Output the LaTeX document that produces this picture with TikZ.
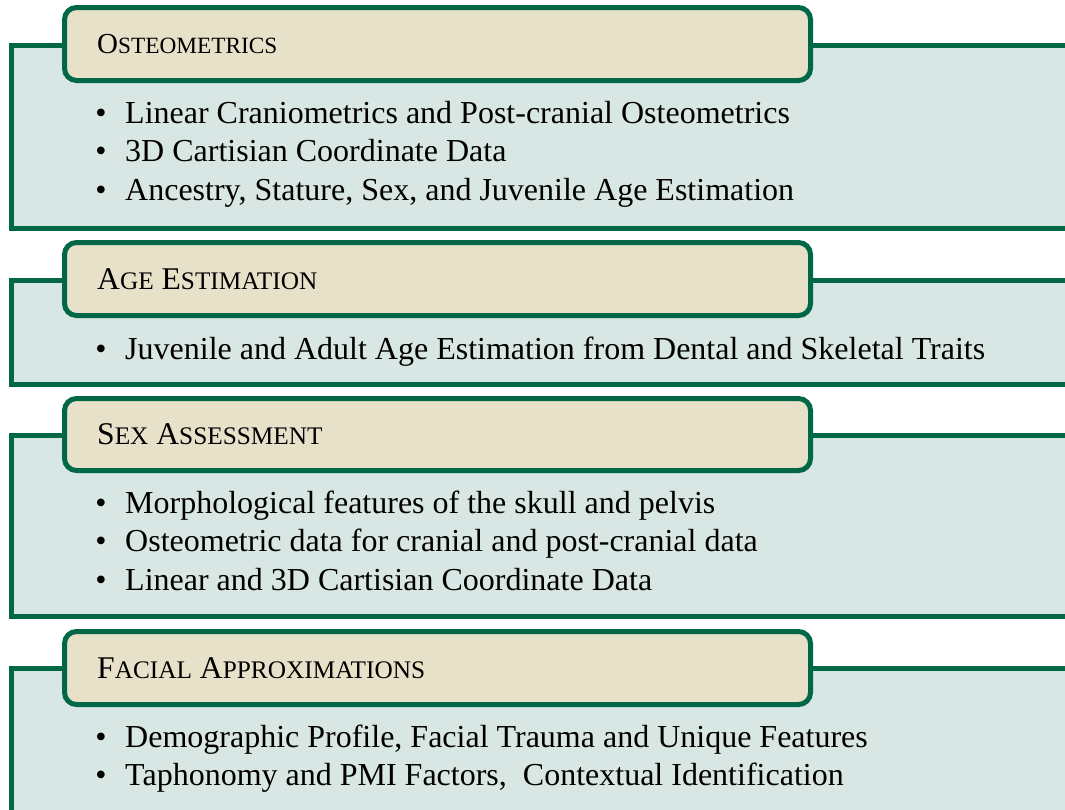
\documentclass[tikz,border=0pt]{standalone}
\usepackage{fontspec}
\setmainfont{Liberation Serif}
\definecolor{bordergreen}{RGB}{0,104,71}
\definecolor{panelfill}{RGB}{217,231,228}
\definecolor{labelfill}{RGB}{231,225,201}
\newcommand\lbBig[1]{{\fontsize{31.6}{33}\selectfont #1}}
\newcommand\lbSmall[1]{{\fontsize{25.3}{27}\selectfont #1}}
\newcommand\lbBigO[1]{{\fontsize{29}{31}\selectfont #1}}
\newcommand\lbSmallO[1]{{\fontsize{23.3}{25}\selectfont #1}}
\tikzset{
  panel/.style={draw=bordergreen, line width=5pt, fill=panelfill},
  labelbox/.style={draw=bordergreen, line width=5pt, fill=labelfill, rounded corners=12pt},
  lbl/.style={anchor=base west, inner sep=0pt, font=\fontsize{31.6}{33}\selectfont},
  item/.style={anchor=base west, inner sep=0pt, font=\fontsize{32}{34}\selectfont},
  bul/.style={anchor=base, inner sep=0pt, font=\fontsize{32}{34}\selectfont}
}
\begin{document}
\begin{tikzpicture}[x=1pt,y=-1pt]
\useasboundingbox (0,0) rectangle (1065,809);
\clip (0,0) rectangle (1065,809);
\fill[white] (0,0) rectangle (1065,809);
% Section 1
\draw[panel] (11.5,45.5) rectangle (1085,228);
\draw[labelbox] (64.5,7.5) rectangle (810.5,80.5);
\node[lbl] (t1) at (97,53.5) {\lbBigO{O}\lbSmallO{STEOMETRICS}};
\node[bul] (b11) at (101,123) {•};
\node[item] (i11) at (125,123) {Linear Craniometrics and Post-cranial Osteometrics};
\node[bul] (b12) at (101,161.5) {•};
\node[item] (i12) at (125,161.5) {3D Cartisian Coordinate Data};
\node[bul] (b13) at (101,200) {•};
\node[item] (i13) at (125,200) {Ancestry, Stature, Sex, and Juvenile Age Estimation};
% Section 2
\draw[panel] (11.5,280) rectangle (1085,384);
\draw[labelbox] (64.5,242.5) rectangle (810.5,315.5);
\node[lbl] (t2) at (97,289) {\lbBig{A}\lbSmall{GE} \lbBig{E}\lbSmall{STIMATION}};
\node[bul] (b21) at (101,359) {•};
\node[item] (i21) at (125,359) {Juvenile and Adult Age Estimation from Dental and Skeletal Traits};
% Section 3
\draw[panel] (11.5,435.5) rectangle (1085,616.5);
\draw[labelbox] (64.5,398.5) rectangle (810.5,470.5);
\node[lbl] (t3) at (97,444.5) {\lbBig{S}\lbSmall{EX} \lbBig{A}\lbSmall{SSESSMENT}};
\node[bul] (b31) at (101,513) {•};
\node[item] (i31) at (125,513) {Morphological features of the skull and pelvis};
\node[bul] (b32) at (101,551.5) {•};
\node[item] (i32) at (125,551.5) {Osteometric data for cranial and post-cranial data};
\node[bul] (b33) at (101,590) {•};
\node[item] (i33) at (125,590) {Linear and 3D Cartisian Coordinate Data};
% Section 4
\draw[panel] (11.5,668.5) rectangle (1085,840);
\draw[labelbox] (64.5,631.5) rectangle (810.5,704.5);
\node[lbl] (t4) at (97,678) {\lbBig{F}\lbSmall{ACIAL} \lbBig{A}\lbSmall{PPROXIMATIONS}};
\node[bul] (b41) at (101,747) {•};
\node[item] (i41) at (125,747) {Demographic Profile, Facial Trauma and Unique Features};
\node[bul] (b42) at (101,785.5) {•};
\node[item] (i42) at (125,785.5) {Taphonomy and PMI Factors,\ \ Contextual Identification};
\end{tikzpicture}
\end{document}
